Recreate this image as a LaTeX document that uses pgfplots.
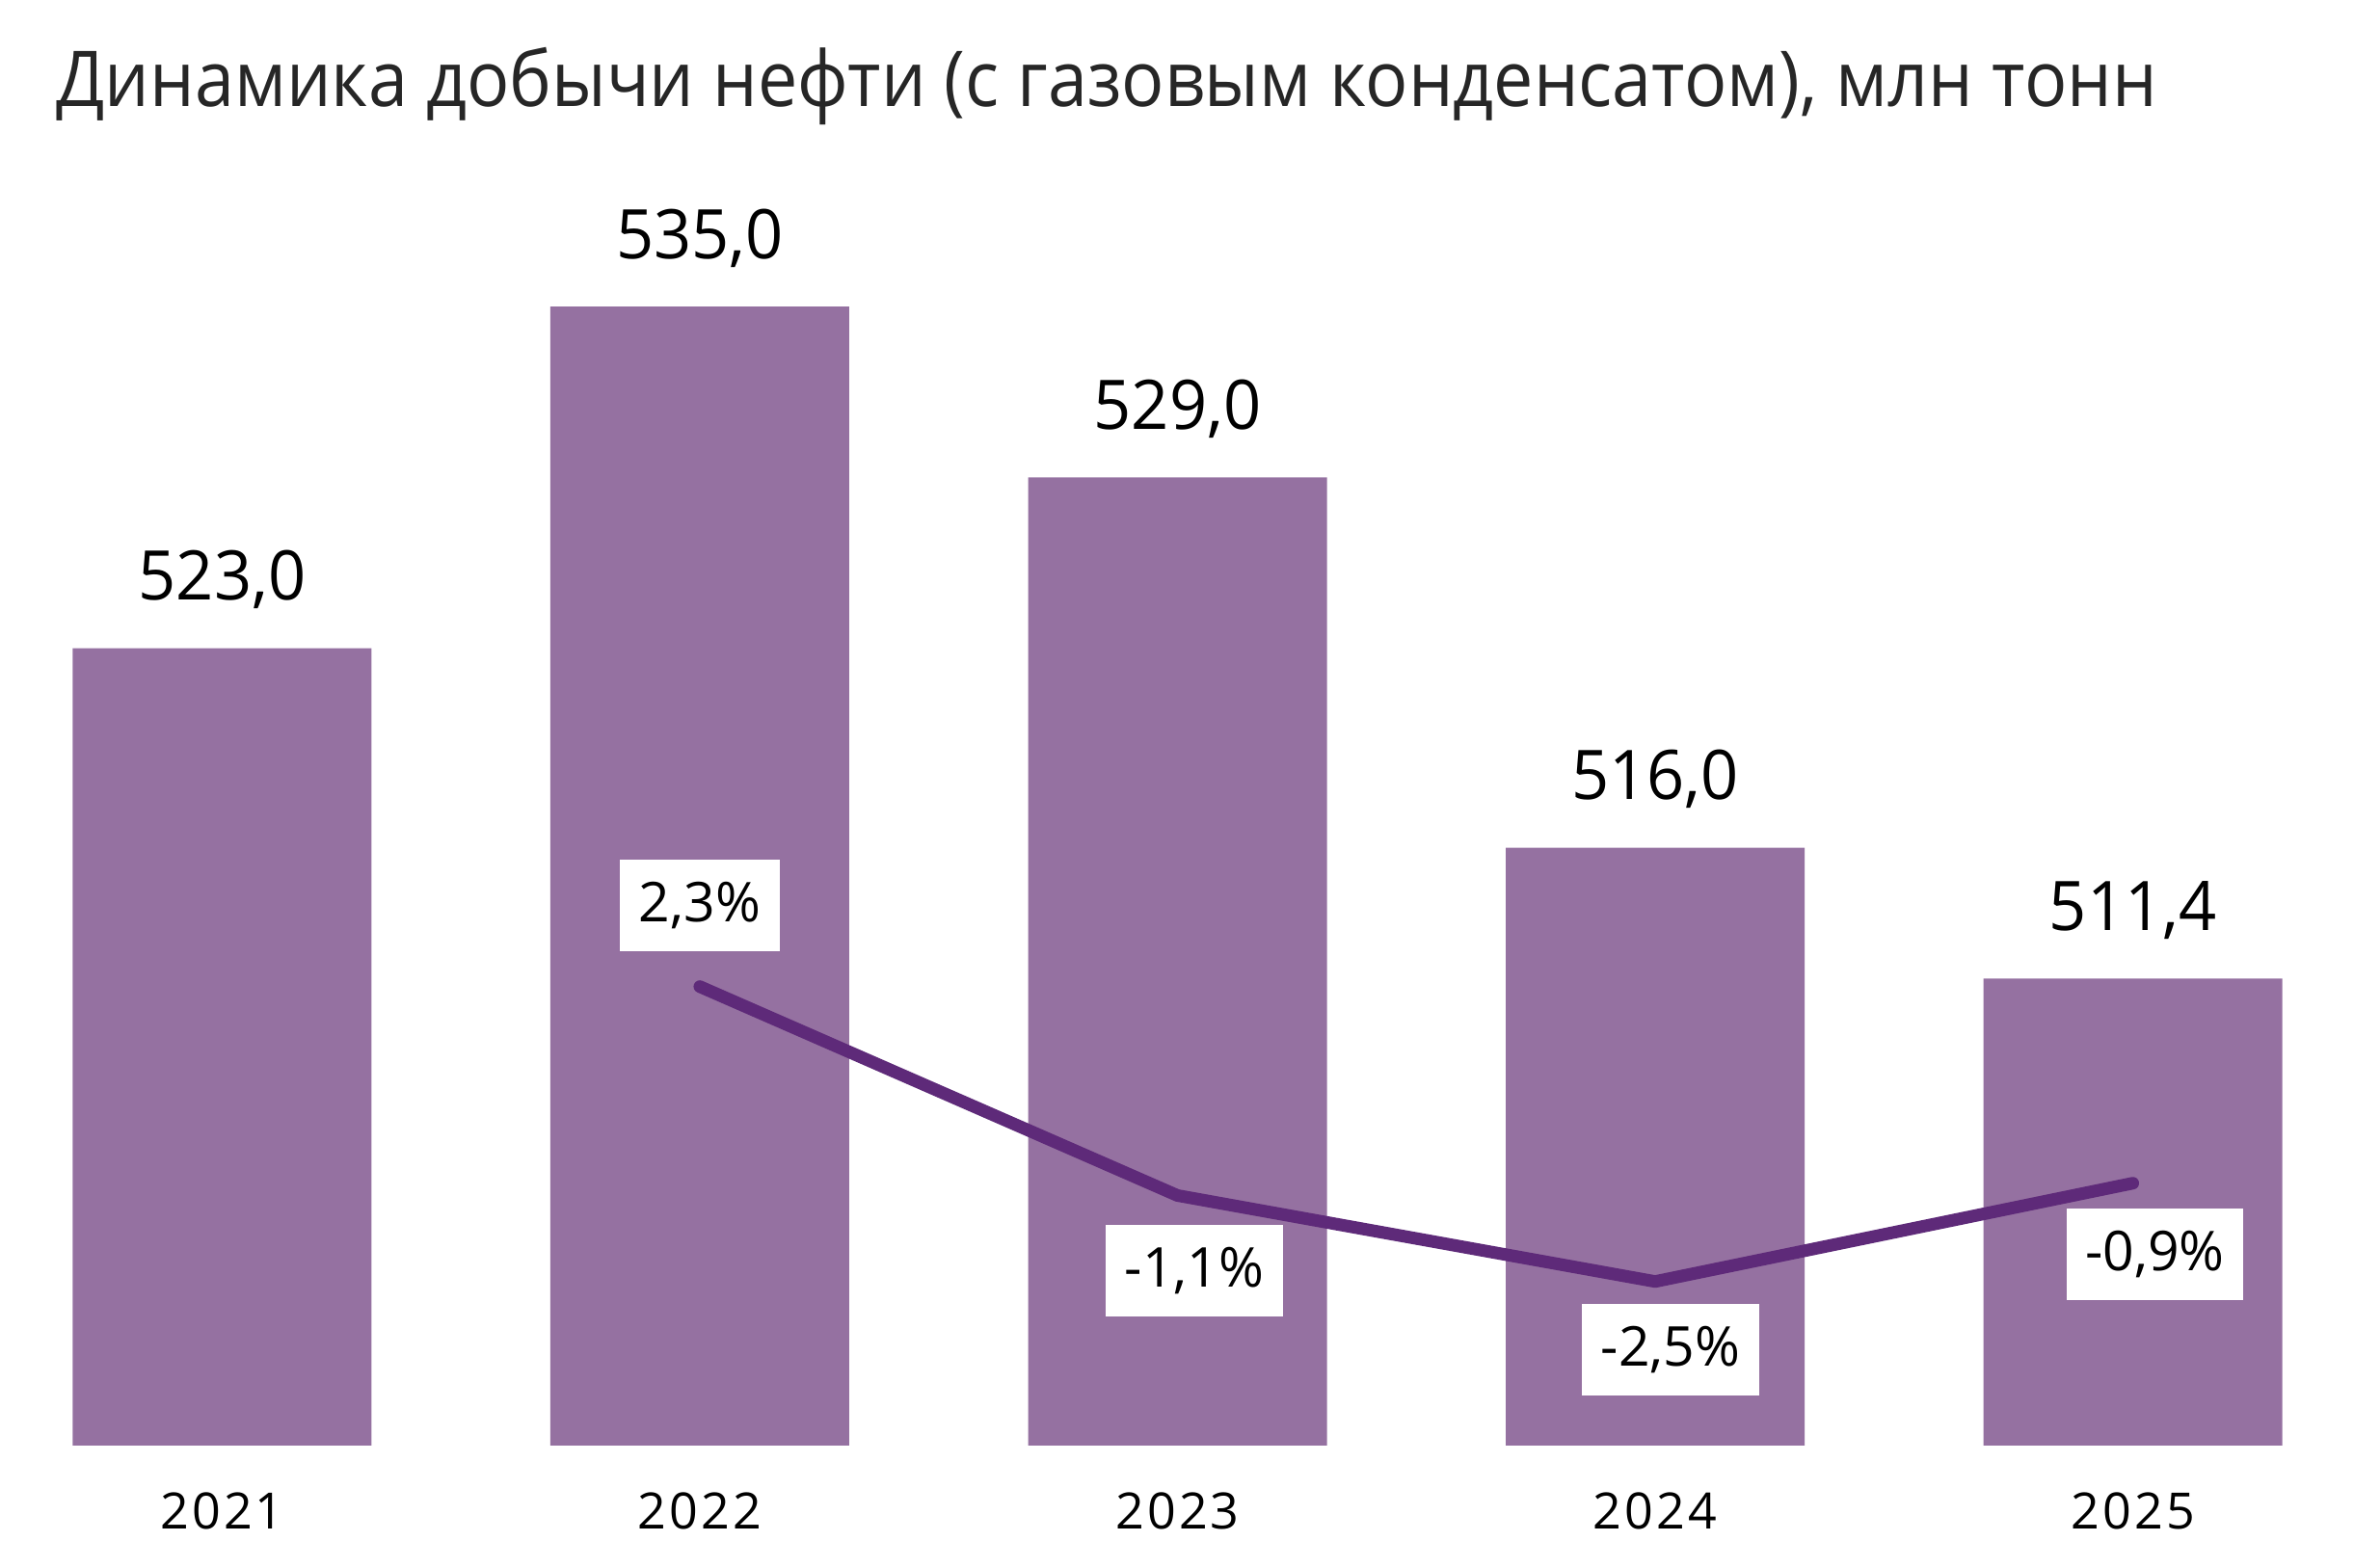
\documentclass[border=0pt]{standalone}
\usepackage{pgfplots}
\pgfplotsset{compat=1.18}
\usepackage{fontspec}
\setmainfont{Open Sans}
\definecolor{barcol}{HTML}{9571A1}
\definecolor{linecol}{HTML}{5E2A79}
\definecolor{titlecol}{HTML}{262626}
\pgfplotsset{
  common/.style={
    at={(0pt,25.4pt)}, anchor=south west,
    scale only axis, width=488.4pt, height=260pt,
    xmin=-0.465, xmax=4.463,
    axis line style={draw=none},
    tick style={draw=none},
    major tick length=0pt,
    ytick=\empty,
    clip=false,
  },
  pct/.style={draw=none, mark=none, nodes near coords, point meta=explicit symbolic,
    nodes near coords style={anchor=center, fill=white, text=black,
      inner xsep=3.9pt, inner ysep=0pt, minimum height=19pt,
      font=\fontsize{11.4}{13}\selectfont}},
}
\begin{document}
\begin{tikzpicture}
\useasboundingbox (0,0) rectangle (488.4pt,325.4pt);
\begin{axis}[common,
  ymin=495, ymax=539,
  xtick={0,1,2,3,4},
  xticklabels={2021,2022,2023,2024,2025},
  xticklabel style={anchor=base, yshift=-17.4pt, inner sep=0pt, text=black,
    font=\fontsize{10.4}{12}\selectfont\addfontfeatures{LetterSpace=6}},
  title={Динамика добычи нефти (с газовым конденсатом), млн тонн},
  title style={at={(0.0236,1.0692)}, anchor=base west, yshift=-6pt, inner sep=0pt,
    text=titlecol, font=\fontsize{16}{19}\selectfont\addfontfeatures{FakeStretch=0.92}},
]
\addplot[ybar, bar width=62pt, bar shift=0pt, fill=barcol, draw=none,
  nodes near coords, point meta=explicit symbolic,
  nodes near coords style={anchor=base, yshift=10pt, inner sep=0pt, text=black,
    font=\fontsize{14.2}{17}\selectfont\addfontfeatures{FakeStretch=0.965}}]
  coordinates {(0,523.0) [523,0] (1,535.0) [535,0] (2,529.0) [529,0] (3,516.0) [516,0] (4,511.4) [511,4]};
\end{axis}
\begin{axis}[common,
  ymin=-5.17, ymax=15.22,
  xtick=\empty,
]
\addplot[linecol, line width=2.6pt, line cap=round, line join=round, mark=none]
  coordinates {(1,2.3) (2,-1.1) (3,-2.5) (4,-0.9)};
\addplot[pct, nodes near coords style={yshift=16.8pt}] coordinates {(1,2.3) [2,3\%]};
\addplot[pct, nodes near coords style={xshift=3.5pt, yshift=-15.6pt}] coordinates {(2,-1.1) [-1,1\%]};
\addplot[pct, nodes near coords style={xshift=3.2pt, yshift=-14.1pt}] coordinates {(3,-2.5) [-2,5\%]};
\addplot[pct, nodes near coords style={xshift=4.6pt, yshift=-14.8pt}] coordinates {(4,-0.9) [-0,9\%]};
\end{axis}
\end{tikzpicture}
\end{document}
